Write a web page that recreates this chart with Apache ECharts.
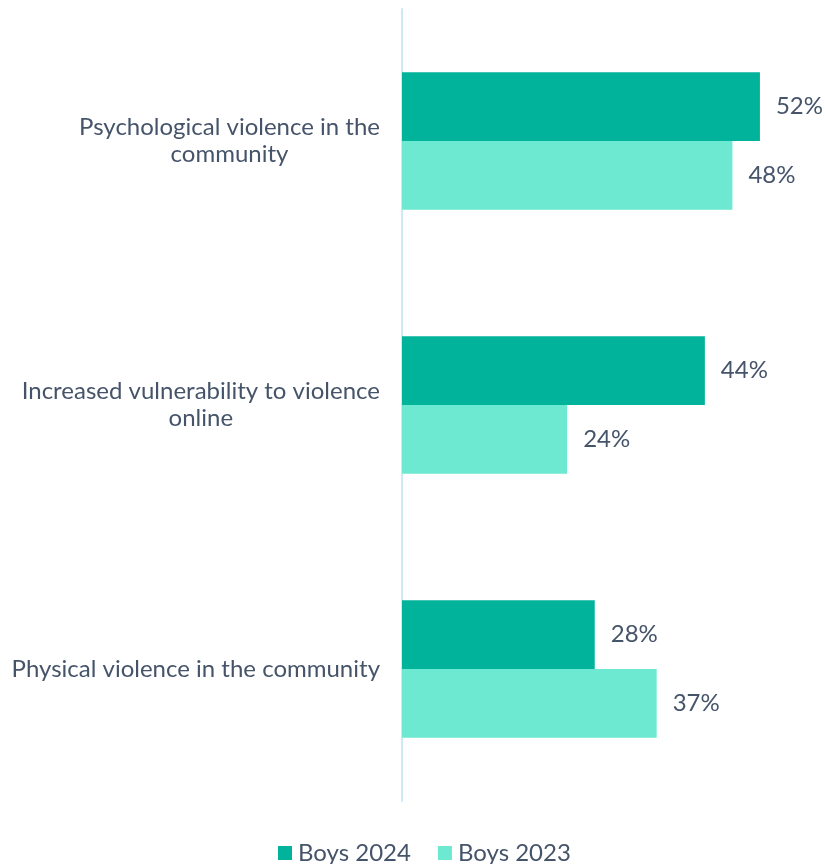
<!DOCTYPE html>
<html>
<head>
<meta charset="utf-8">
<script src="https://cdn.jsdelivr.net/npm/echarts@6/dist/echarts.min.js"></script>
<style>
  html, body { margin: 0; padding: 0; background: #ffffff; }
  #chart { width: 825px; height: 864px; }
</style>
</head>
<body>
<div id="chart"></div>
<script>
// Categories (line breaks as displayed)
const categories = [
  'Psychological violence in the\ncommunity',
  'Increased vulnerability to violence\nonline',
  'Physical violence in the community'
];
const seriesNames = ['Boys 2024', 'Boys 2023'];
const boys2024 = [52, 44, 28];
const boys2023 = [48, 24, 37];

const textColor = '#46546a';
const fontFamily = 'Lato, "Noto Sans", sans-serif';
const fontSize = 24;

const chart = echarts.init(document.getElementById('chart'), null, { renderer: 'canvas' });

const labelStyle = {
  show: true,
  position: 'right',
  distance: 16,
  color: textColor,
  fontFamily: fontFamily,
  fontSize: fontSize,
  formatter: p => p.value + '%'
};

chart.setOption({
  backgroundColor: '#ffffff',
  animation: false,
  grid: { left: 402, right: 10, top: 9, bottom: 63, containLabel: false },
  legend: {
    top: 836,
    left: 273,
    icon: 'rect',
    itemWidth: 14,
    itemHeight: 14,
    itemGap: 27,
    textStyle: { color: textColor, fontFamily: fontFamily, fontSize: fontSize, padding: [0, 0, 0, 1] },
    data: seriesNames
  },
  xAxis: {
    type: 'value',
    min: 0,
    max: 60,
    show: false
  },
  yAxis: {
    type: 'category',
    inverse: true,
    data: categories,
    axisLine: { show: true, lineStyle: { color: '#cfe8f7', width: 2 } },
    axisTick: { show: false },
    axisLabel: {
      margin: 22,
      color: textColor,
      fontFamily: fontFamily,
      fontSize: fontSize,
      lineHeight: 27,
      formatter: v => v.split('\n').map(l => '{a|' + l + '}').join('\n'),
      rich: {
        a: { align: 'center', color: textColor, fontFamily: fontFamily, fontSize: fontSize, lineHeight: 27 }
      }
    }
  },
  series: [
    {
      name: seriesNames[0],
      type: 'bar',
      data: boys2024,
      itemStyle: { color: '#00b39a' },
      barGap: '0%',
      barCategoryGap: '48%',
      label: labelStyle
    },
    {
      name: seriesNames[1],
      type: 'bar',
      data: boys2023,
      itemStyle: { color: '#6ce9d0' },
      barGap: '0%',
      barCategoryGap: '48%',
      label: labelStyle
    }
  ]
});
</script>
</body>
</html>
